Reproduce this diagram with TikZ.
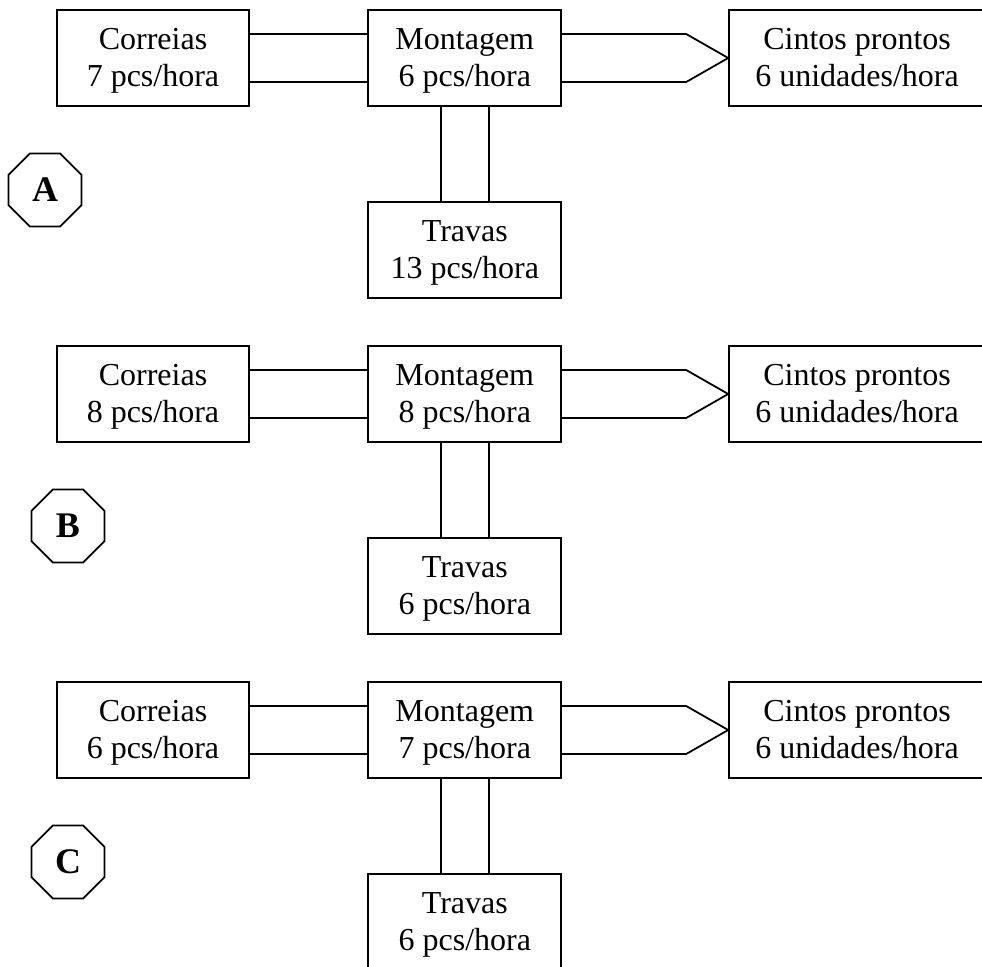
\documentclass[tikz,border=0pt]{standalone}
\usepackage{fontspec}
\setmainfont{Liberation Serif}
\usepackage{tikz}
\usetikzlibrary{shapes.geometric, positioning}

\newcommand{\twolines}[2]{\rule{0pt}{14.5pt}#1\\#2\rule[-4pt]{0pt}{4pt}}

\begin{document}
\begin{tikzpicture}[-,line width=0.9pt,
      box/.style={rectangle,draw,align=center,minimum height=48pt,inner sep=2pt,
        font=\fontsize{16}{18.5}\selectfont},
      tag/.style={regular polygon,regular polygon sides=8,draw,minimum size=39.5pt,
        inner sep=0pt,font=\fontsize{18}{20}\selectfont\bfseries}]
    \useasboundingbox (0,0) rectangle (491pt,-483.5pt);

    % A
    \node[box,minimum width=96pt] (c1) at (76.5pt,-29pt) {\twolines{Correias}{7 pcs/hora}};
    \node[box,minimum width=96.5pt] (m1) [right=58.75pt of c1] {\twolines{Montagem}{6 pcs/hora}};
    \node[box,minimum width=128pt] (p1) [right=83pt of m1] {\twolines{Cintos prontos}{6 unidades/hora}};
    \node[box,minimum width=96.5pt] (t1) [below=47pt of m1] {\twolines{Travas}{13 pcs/hora}};
    \node[tag] (a) at (22.5pt,-95pt) {A};

    % B
    \node[box,minimum width=96pt] (c2) at (76.5pt,-197pt) {\twolines{Correias}{8 pcs/hora}};
    \node[box,minimum width=96.5pt] (m2) [right=58.75pt of c2] {\twolines{Montagem}{8 pcs/hora}};
    \node[box,minimum width=128pt] (p2) [right=83pt of m2] {\twolines{Cintos prontos}{6 unidades/hora}};
    \node[box,minimum width=96.5pt] (t2) [below=47pt of m2] {\twolines{Travas}{6 pcs/hora}};
    \node[tag] (b) at (34pt,-263pt) {B};

    % C
    \node[box,minimum width=96pt] (c3) at (76.5pt,-365pt) {\twolines{Correias}{6 pcs/hora}};
    \node[box,minimum width=96.5pt] (m3) [right=58.75pt of c3] {\twolines{Montagem}{7 pcs/hora}};
    \node[box,minimum width=128pt] (p3) [right=83pt of m3] {\twolines{Cintos prontos}{6 unidades/hora}};
    \node[box,minimum width=96.5pt] (t3) [below=47pt of m3] {\twolines{Travas}{6 pcs/hora}};
    \node[tag] (c) at (34pt,-431pt) {C};

    \foreach \i in {1,2,3} {
        \path
            ([yshift=12pt]c\i.east) edge ([yshift=12pt]m\i.west)
            ([yshift=-12pt]c\i.east) edge ([yshift=-12pt]m\i.west)
            ([xshift=-12pt]m\i.south) edge ([xshift=-12pt]t\i.north)
            ([xshift=12pt]m\i.south) edge ([xshift=12pt]t\i.north)
        ;
        \draw[line join=miter] ([yshift=12pt]m\i.east) -- ([yshift=12pt,xshift=-21pt]p\i.west)
            -- (p\i.west) -- ([yshift=-12pt,xshift=-21pt]p\i.west) -- ([yshift=-12pt]m\i.east);
    }
\end{tikzpicture}
\end{document}
